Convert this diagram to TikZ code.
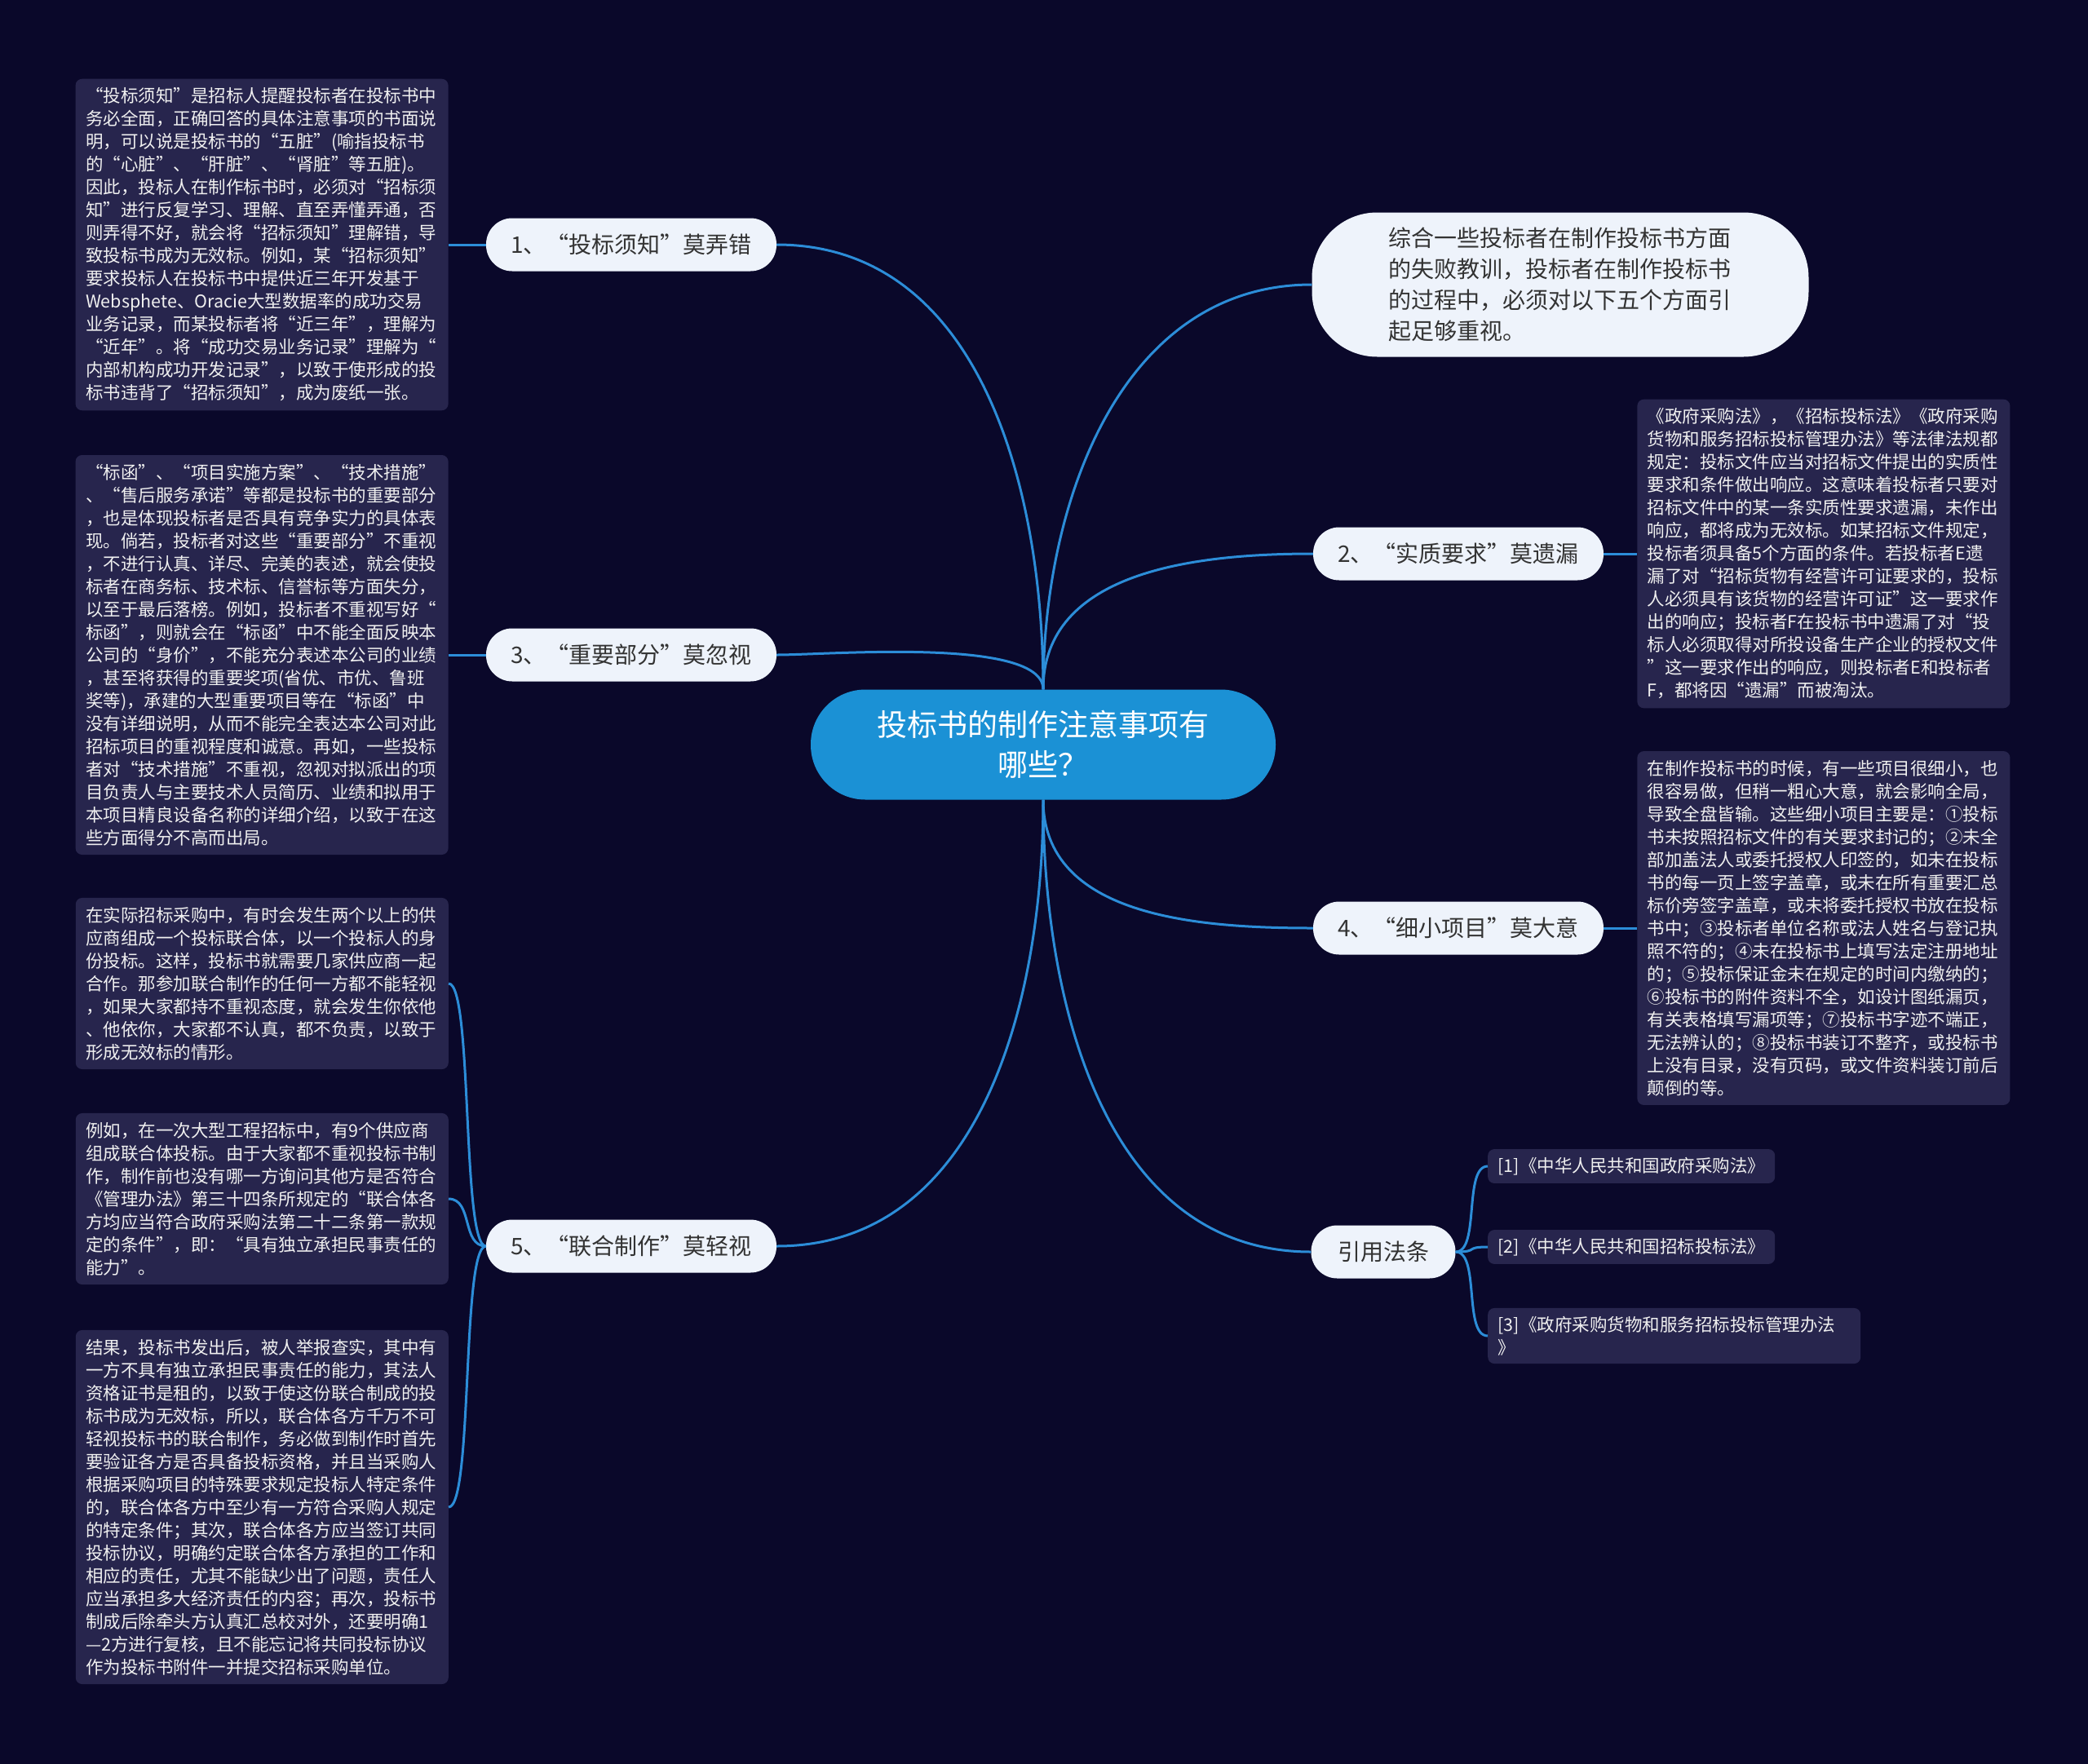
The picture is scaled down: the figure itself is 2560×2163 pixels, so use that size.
\documentclass[tikz,border=0pt]{standalone}
\usepackage{fontspec}
\setmainfont{Noto Sans CJK SC}
\usetikzlibrary{positioning}

\definecolor{bgnavy}{HTML}{0A082A}
\definecolor{boxfill}{HTML}{27254D}
\definecolor{bubblefill}{HTML}{EEF3FB}
\definecolor{rootblue}{HTML}{1B91D5}
\definecolor{linkblue}{HTML}{2C8DD8}
\definecolor{inktext}{HTML}{333333}

\tikzset{
  rootnode/.style={fill=rootblue, rounded corners=67pt, minimum width=570pt, minimum height=135pt,
    text=white, align=center, font=\fontsize{37}{49}\selectfont},
  topic/.style={fill=bubblefill, rounded corners=32pt, minimum width=356pt, minimum height=65pt,
    text=inktext, font=\fontsize{28}{38}\selectfont},
  notebox/.style={fill=boxfill, rounded corners=8pt, text=white!94!black, text width=432pt,
    inner xsep=12.5pt, inner ysep=11pt, align=left, font=\fontsize{21.5}{28}\selectfont},
  lawbox/.style={notebox, text width=327pt, inner ysep=10pt},
  link/.style={draw=linkblue, line width=3pt},
}

\begin{document}
\begin{tikzpicture}[x=1pt,y=1pt]
  \fill[bgnavy] (0,0) rectangle (2560,-2163);
  \useasboundingbox (0,0) rectangle (2560,-2163);

  \node[rootnode] (root) at (1279,-913) {投标书的制作注意事项有\\哪些？};

  \node[topic, minimum width=609pt, minimum height=177pt, rounded corners=80pt,
    text width=421pt, align=left] (intro) at (1913,-349)
    {综合一些投标者在制作投标书方面\\的失败教训，投标者在制作投标书\\的过程中，必须对以下五个方面引\\起足够重视。};
  \node[topic] (b1) at (774,-300) {1、“投标须知”莫弄错};
  \node[topic] (b2) at (1788,-679) {2、“实质要求”莫遗漏};
  \node[topic] (b3) at (774,-803) {3、“重要部分”莫忽视};
  \node[topic] (b4) at (1788,-1138) {4、“细小项目”莫大意};
  \node[topic] (b5) at (774,-1528) {5、“联合制作”莫轻视};
  \node[topic, minimum width=177pt] (law) at (1696,-1535) {引用法条};

  \node[notebox, left=46pt of b1] (n1) {“投标须知”是招标人提醒投标者在投标书中\\务必全面，正确回答的具体注意事项的书面说\\明，可以说是投标书的“五脏”(喻指投标书\\的“心脏”、“肝脏”、“肾脏”等五脏)。\\因此，投标人在制作标书时，必须对“招标须\\知”进行反复学习、理解、直至弄懂弄通，否\\则弄得不好，就会将“招标须知”理解错，导\\致投标书成为无效标。例如，某“招标须知”\\要求投标人在投标书中提供近三年开发基于\\Websphete、Oracie大型数据率的成功交易\\业务记录，而某投标者将“近三年”，理解为\\“近年”。将“成功交易业务记录”理解为“\\内部机构成功开发记录”，以致于使形成的投\\标书违背了“招标须知”，成为废纸一张。};
  \node[notebox, left=46pt of b3] (n3) {“标函”、“项目实施方案”、“技术措施”\\、“售后服务承诺”等都是投标书的重要部分\\，也是体现投标者是否具有竞争实力的具体表\\现。倘若，投标者对这些“重要部分”不重视\\，不进行认真、详尽、完美的表述，就会使投\\标者在商务标、技术标、信誉标等方面失分，\\以至于最后落榜。例如，投标者不重视写好“\\标函”，则就会在“标函”中不能全面反映本\\公司的“身价”，不能充分表述本公司的业绩\\，甚至将获得的重要奖项(省优、市优、鲁班\\奖等)，承建的大型重要项目等在“标函”中\\没有详细说明，从而不能完全表达本公司对此\\招标项目的重视程度和诚意。再如，一些投标\\者对“技术措施”不重视，忽视对拟派出的项\\目负责人与主要技术人员简历、业绩和拟用于\\本项目精良设备名称的详细介绍，以致于在这\\些方面得分不高而出局。};
  \node[notebox, right=41pt of b2] (n2) {《政府采购法》，《招标投标法》《政府采购\\货物和服务招标投标管理办法》等法律法规都\\规定：投标文件应当对招标文件提出的实质性\\要求和条件做出响应。这意味着投标者只要对\\招标文件中的某一条实质性要求遗漏，未作出\\响应，都将成为无效标。如某招标文件规定，\\投标者须具备5个方面的条件。若投标者E遗\\漏了对“招标货物有经营许可证要求的，投标\\人必须具有该货物的经营许可证”这一要求作\\出的响应；投标者F在投标书中遗漏了对“投\\标人必须取得对所投设备生产企业的授权文件\\”这一要求作出的响应，则投标者E和投标者\\F，都将因“遗漏”而被淘汰。};
  \node[notebox, right=41pt of b4] (n4) {在制作投标书的时候，有一些项目很细小，也\\很容易做，但稍一粗心大意，就会影响全局，\\导致全盘皆输。这些细小项目主要是：①投标\\书未按照招标文件的有关要求封记的；②未全\\部加盖法人或委托授权人印签的，如未在投标\\书的每一页上签字盖章，或未在所有重要汇总\\标价旁签字盖章，或未将委托授权书放在投标\\书中；③投标者单位名称或法人姓名与登记执\\照不符的；④未在投标书上填写法定注册地址\\的；⑤投标保证金未在规定的时间内缴纳的；\\⑥投标书的附件资料不全，如设计图纸漏页，\\有关表格填写漏项等；⑦投标书字迹不端正，\\无法辨认的；⑧投标书装订不整齐，或投标书\\上没有目录，没有页码，或文件资料装订前后\\颠倒的等。};
  \node[notebox, anchor=east] (n5a) at (550,-1206) {在实际招标采购中，有时会发生两个以上的供\\应商组成一个投标联合体，以一个投标人的身\\份投标。这样，投标书就需要几家供应商一起\\合作。那参加联合制作的任何一方都不能轻视\\，如果大家都持不重视态度，就会发生你依他\\、他依你，大家都不认真，都不负责，以致于\\形成无效标的情形。};
  \node[notebox, anchor=east] (n5b) at (550,-1470) {例如，在一次大型工程招标中，有9个供应商\\组成联合体投标。由于大家都不重视投标书制\\作，制作前也没有哪一方询问其他方是否符合\\《管理办法》第三十四条所规定的“联合体各\\方均应当符合政府采购法第二十二条第一款规\\定的条件”，即：“具有独立承担民事责任的\\能力”。};
  \node[notebox, anchor=east] (n5c) at (550,-1848) {结果，投标书发出后，被人举报查实，其中有\\一方不具有独立承担民事责任的能力，其法人\\资格证书是租的，以致于使这份联合制成的投\\标书成为无效标，所以，联合体各方千万不可\\轻视投标书的联合制作，务必做到制作时首先\\要验证各方是否具备投标资格，并且当采购人\\根据采购项目的特殊要求规定投标人特定条件\\的，联合体各方中至少有一方符合采购人规定\\的特定条件；其次，联合体各方应当签订共同\\投标协议，明确约定联合体各方承担的工作和\\相应的责任，尤其不能缺少出了问题，责任人\\应当承担多大经济责任的内容；再次，投标书\\制成后除牵头方认真汇总校对外，还要明确1\\—2方进行复核，且不能忘记将共同投标协议\\作为投标书附件一并提交招标采购单位。};
  \node[lawbox, anchor=west] (lawA) at (1824,-1430) {[1]《中华人民共和国政府采购法》};
  \node[lawbox, anchor=west] (lawB) at (1824,-1529) {[2]《中华人民共和国招标投标法》};
  \node[notebox, inner ysep=10pt, anchor=west] (lawC) at (1824,-1638) {[3]《政府采购货物和服务招标投标管理办法\\》};

  \draw[link] (root.north) to[out=90,in=180] (intro.west);
  \draw[link] (root.north) to[out=90,in=0] (b1.east);
  \draw[link] (root.north) to[out=90,in=180] (b2.west);
  \draw[link] (root.north) to[out=90,in=0,looseness=0.5] (b3.east);
  \draw[link] (root.south) to[out=-90,in=180] (b4.west);
  \draw[link] (root.south) to[out=-90,in=0] (b5.east);
  \draw[link] (root.south) to[out=-90,in=180] (law.west);

  \draw[link] (b1.west) -- (n1.east);
  \draw[link] (b3.west) -- (n3.east);
  \draw[link] (b2.east) -- (n2.west);
  \draw[link] (b4.east) -- (n4.west);
  \foreach \n in {n5a,n5b,n5c}
    \draw[link] (b5.west) .. controls +(-30,0) and +(30,0) .. (\n.east);
  \foreach \n in {lawA,lawB,lawC}
    \draw[link] (law.east) .. controls +(30,0) and +(-30,0) .. (\n.west);
\end{tikzpicture}
\end{document}
